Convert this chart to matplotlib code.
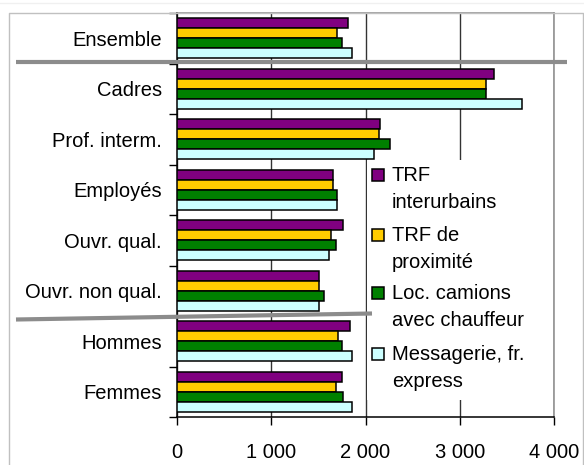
import matplotlib
matplotlib.use('Agg')
import matplotlib.pyplot as plt
import numpy as np
from matplotlib.lines import Line2D
from matplotlib.patches import Rectangle
from matplotlib.transforms import blended_transform_factory

plt.rcParams['font.family'] = ['Liberation Sans', 'DejaVu Sans']

# Salaires par catégorie
categories = ['Ensemble', 'Cadres', 'Prof. interm.', 'Employés', 'Ouvr. qual.',
              'Ouvr. non qual.', 'Hommes', 'Femmes']
series_names = ['TRF\ninterurbains', 'TRF de\nproximité',
                'Loc. camions\navec chauffeur', 'Messagerie, fr.\nexpress']
trf_interurbains = [1810, 3365, 2150, 1660, 1765, 1505, 1835, 1750]
trf_proximite = [1700, 3275, 2145, 1655, 1635, 1505, 1705, 1685]
loc_camions = [1750, 3275, 2255, 1700, 1685, 1555, 1750, 1765]
messagerie = [1855, 3660, 2085, 1700, 1615, 1510, 1855, 1855]
colors = ['#800080', '#ffcc00', '#008000', '#ccffff']
x_ticks = [0, 1000, 2000, 3000, 4000]
x_tick_labels = ['0', '1 000', '2 000', '3 000', '4 000']

W, H = 584, 465
FS = 14.5


def fx(px):
    return px / W


def fy(py):
    return 1 - py / H


fig = plt.figure(figsize=(W / 100, H / 100), dpi=100)
ax = fig.add_axes([fx(177), fy(417), (554 - 177) / W, (417 - 13) / H])

y = np.arange(len(categories))
series = [trf_interurbains, trf_proximite, loc_camions, messagerie]
bar_h = 0.2
for i, (vals, c) in enumerate(zip(series, colors)):
    ax.barh(y + (i - 1.5) * bar_h, vals, height=bar_h, color=c,
            edgecolor='black', linewidth=1.1, zorder=3)

ax.set_xlim(0, 4000)
ax.set_ylim(len(categories) - 0.5, -0.5)
ax.set_xticks(x_ticks, x_tick_labels)
ax.set_yticks(y, categories)
ax.set_yticks(np.arange(len(categories) + 1) - 0.5, minor=True)
ax.tick_params(axis='y', which='major', length=0, pad=11, labelsize=FS)
ax.tick_params(axis='y', which='minor', length=6, width=1, color='black')
ax.tick_params(axis='x', length=6, width=1, pad=13, labelsize=FS)
ax.xaxis.grid(True, color='#333333', linewidth=1)
ax.set_axisbelow(True)
for side in ['left', 'bottom']:
    ax.spines[side].set_color('black')
    ax.spines[side].set_linewidth(1.1)
for side in ['top', 'right']:
    ax.spines[side].set_color('#8a8a8a')
    ax.spines[side].set_linewidth(1.1)


def ax_x(px):
    return (px - 177) / 377


def ax_y(py):
    return (417 - py) / 404


# legend panel on the right side of the plot, 2 000 gridline left visible
ax.add_patch(Rectangle((ax_x(366.5), ax_y(400)), ax_x(553) - ax_x(366.5),
                       ax_y(160) - ax_y(400), transform=ax.transAxes,
                       facecolor='white', edgecolor='none', zorder=2))
line1 = [175, 235, 293, 354]
for name, c, yl in zip(series_names, colors, line1):
    ax.add_patch(Rectangle((ax_x(372), ax_y(yl + 6)), 12 / 377, 12 / 404,
                           transform=ax.transAxes, facecolor=c,
                           edgecolor='black', linewidth=1.1, zorder=5))
    ax.text(ax_x(392), ax_y(yl + 14), name, transform=ax.transAxes,
            ha='left', va='center', fontsize=FS, linespacing=1.5, zorder=5)

# group separators
sep = dict(color='#8c8c8c', linewidth=3, solid_capstyle='butt', zorder=6)
tr = blended_transform_factory(fig.transFigure, ax.transData)
fig.add_artist(Line2D([fx(16), fx(567)], [0.47, 0.47], transform=tr, **sep))
fig.add_artist(Line2D([fx(16), fx(372)], [fy(319.5), fy(313.5)],
                      transform=fig.transFigure, **sep))

# outer frame
frame = dict(color='#c0c0c0', linewidth=1, transform=fig.transFigure)
fig.add_artist(Line2D([fx(8.5), fx(8.5), fx(582.5), fx(582.5)],
                      [fy(466), fy(13), fy(13), fy(466)], **frame))
fig.add_artist(Line2D([0, 1], [fy(3), fy(3)], color='#f0f0f0', linewidth=1,
                      transform=fig.transFigure))

fig.savefig('out.png', dpi=100)
